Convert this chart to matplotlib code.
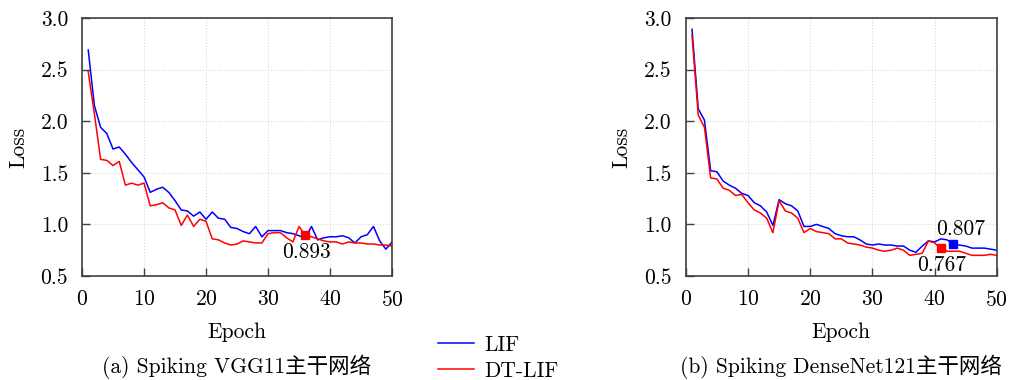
import matplotlib.pyplot as plt
import numpy as np

epochs = np.arange(1, 51)

# (a) Spiking VGG11
vgg_lif = [2.69, 2.15, 1.94, 1.88, 1.73, 1.75, 1.68, 1.60, 1.53, 1.46,
           1.31, 1.34, 1.36, 1.31, 1.23, 1.14, 1.13, 1.08, 1.12, 1.05,
           1.12, 1.06, 1.05, 0.97, 0.96, 0.93, 0.91, 0.98, 0.88, 0.94,
           0.94, 0.94, 0.92, 0.91, 0.89, 0.87, 0.98, 0.85, 0.87, 0.88,
           0.88, 0.89, 0.87, 0.82, 0.88, 0.90, 0.98, 0.84, 0.76, 0.83]
vgg_dt = [2.48, 2.07, 1.63, 1.62, 1.57, 1.61, 1.38, 1.40, 1.38, 1.40,
          1.18, 1.19, 1.21, 1.16, 1.14, 0.99, 1.09, 0.98, 1.05, 1.03,
          0.86, 0.85, 0.82, 0.80, 0.81, 0.84, 0.83, 0.82, 0.82, 0.91,
          0.92, 0.92, 0.87, 0.83, 0.98, 0.893, 0.88, 0.86, 0.84, 0.83,
          0.83, 0.81, 0.83, 0.82, 0.82, 0.81, 0.81, 0.80, 0.80, 0.79]

# (b) Spiking DenseNet121
dense_lif = [2.89, 2.12, 2.01, 1.52, 1.51, 1.42, 1.38, 1.35, 1.30, 1.28,
             1.21, 1.18, 1.12, 0.99, 1.24, 1.20, 1.18, 1.13, 0.98, 0.98,
             1.00, 0.98, 0.96, 0.91, 0.89, 0.88, 0.88, 0.85, 0.81, 0.80,
             0.81, 0.80, 0.80, 0.79, 0.79, 0.75, 0.73, 0.79, 0.84, 0.83,
             0.86, 0.85, 0.807, 0.80, 0.79, 0.77, 0.77, 0.77, 0.76, 0.75]
dense_dt = [2.83, 2.06, 1.94, 1.45, 1.44, 1.35, 1.33, 1.28, 1.29, 1.21,
            1.14, 1.11, 1.06, 0.92, 1.23, 1.13, 1.11, 1.06, 0.92, 0.96,
            0.93, 0.92, 0.91, 0.86, 0.86, 0.82, 0.81, 0.80, 0.78, 0.77,
            0.75, 0.74, 0.75, 0.77, 0.75, 0.70, 0.71, 0.72, 0.84, 0.82,
            0.767, 0.74, 0.74, 0.74, 0.72, 0.70, 0.70, 0.70, 0.71, 0.70]

captions = ['(a) Spiking VGG11主干网络', '(b) Spiking DenseNet121主干网络']

plt.rcParams['font.family'] = ['cmr10', 'Noto Sans CJK SC']
plt.rcParams['axes.formatter.use_mathtext'] = True
plt.rcParams['font.size'] = 15.5
plt.rcParams['mathtext.fontset'] = 'cm'

fig = plt.figure(figsize=(10.1, 3.8), dpi=100)
ax1 = fig.add_axes([0.0812, 0.2737, 0.307, 0.679])
ax2 = fig.add_axes([0.679, 0.2737, 0.308, 0.679])


def style(ax):
    ax.set_xlim(0, 50)
    ax.set_ylim(0.5, 3.0)
    ax.set_xticks([0, 10, 20, 30, 40, 50])
    ax.set_yticks([0.5, 1.0, 1.5, 2.0, 2.5, 3.0])
    ax.set_yticklabels(['0.5', '1.0', '1.5', '2.0', '2.5', '3.0'])
    ax.grid(True, linestyle=':', color='#d8d8d8', linewidth=0.8)
    ax.tick_params(direction='in', length=6, width=1.0, color='#404040', pad=10)
    for s in ax.spines.values():
        s.set_color('#404040')
        s.set_linewidth(1.2)
    ax.set_xlabel('Epoch', labelpad=9)
    ax.set_ylabel('Loss', labelpad=9)


l1, = ax1.plot(epochs, vgg_lif, color='blue', lw=1.1, label='LIF')
l2, = ax1.plot(epochs, vgg_dt, color='red', lw=1.1, label='DT-LIF')
ax1.plot(36, vgg_dt[35], 's', color='red', ms=6)
ax1.text(36.2, 0.73, '0.893', ha='center', va='center')
style(ax1)

ax2.plot(epochs, dense_lif, color='blue', lw=1.1)
ax2.plot(epochs, dense_dt, color='red', lw=1.1)
ax2.plot(43, dense_lif[42], 's', color='blue', ms=6)
ax2.plot(41, dense_dt[40], 's', color='red', ms=6)
ax2.text(44.2, 0.95, '0.807', ha='center', va='center')
ax2.text(41.1, 0.60, '0.767', ha='center', va='center')
style(ax2)

fig.legend([l1, l2], ['LIF', 'DT-LIF'], loc='center',
           bbox_to_anchor=(0.493, 0.058), frameon=False,
           handlelength=1.7, handletextpad=0.45, labelspacing=0.3)

fig.text(0.2347, 0.034, captions[0], ha='center', va='center')
fig.text(0.833, 0.034, captions[1], ha='center', va='center')

fig.savefig('out.png', dpi=100)
